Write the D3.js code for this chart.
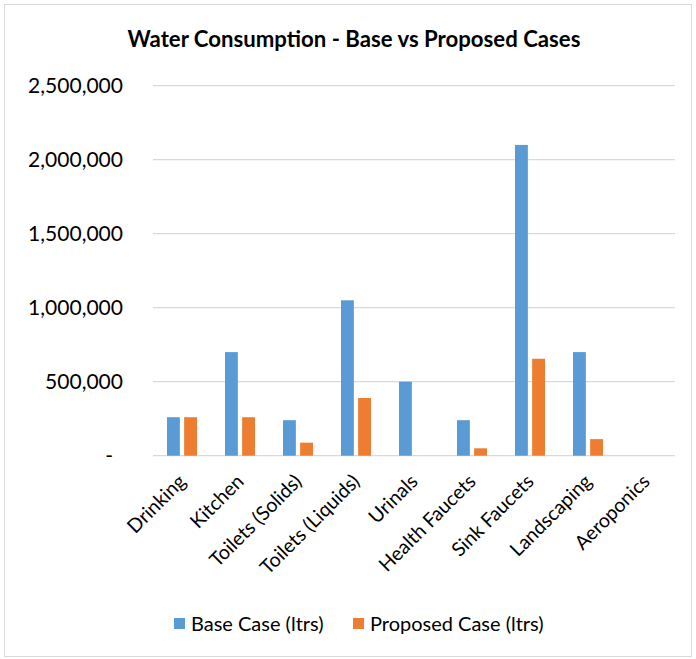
<!DOCTYPE html>
<html>
<head>
<meta charset="utf-8">
<script src="https://cdn.jsdelivr.net/npm/d3@7"></script>
<style>
  html, body { margin: 0; padding: 0; background: #fff; }
  svg { display: block; }
  text { font-family: Lato, "Open Sans", sans-serif; fill: #000; }
</style>
</head>
<body>
<svg id="chart" width="696" height="659"></svg>
<script>
// Water consumption by use, litres
const categories = ["Drinking", "Kitchen", "Toilets (Solids)", "Toilets (Liquids)", "Urinals",
  "Health Faucets", "Sink Faucets", "Landscaping", "Aeroponics"];
const seriesNames = ["Base Case (ltrs)", "Proposed Case (ltrs)"];
const baseCase = [260000, 700000, 240000, 1050000, 500000, 240000, 2100000, 700000, 0];
const proposedCase = [260000, 260000, 88000, 390000, 0, 50000, 655000, 112000, 0];
const yTicks = [0, 500000, 1000000, 1500000, 2000000, 2500000];
const colors = ["#5B9BD5", "#ED7D31"];
const title = "Water Consumption - Base vs Proposed Cases";

const svg = d3.select("#chart");

// scale a text's font size so its rendered width hits a target
function fitWidth(sel, target) {
  const node = sel.node();
  const fs = parseFloat(sel.attr("font-size"));
  const w = node.getComputedTextLength();
  const nfs = fs * target / w;
  sel.attr("font-size", nfs);
  return nfs;
}

// outer frame
svg.append("rect")
  .attr("x", 4.5).attr("y", 4.5).attr("width", 687).attr("height", 652)
  .attr("fill", "#fff").attr("stroke", "#D9D9D9").attr("stroke-width", 1);

const plot = { left: 153, right: 675, top: 85.7, bottom: 455.7 };

const x0 = d3.scaleBand().domain(categories).range([plot.left, plot.right]).padding(0);
const x1 = d3.scaleBand().domain(seriesNames).range([0, 30]).paddingInner(0.25);
const xOff = (x0.bandwidth() - 30) / 2;
const y = d3.scaleLinear().domain([0, 2500000]).range([plot.bottom, plot.top]);

// title
const t = svg.append("text")
  .attr("x", 354).attr("y", 46.7)
  .attr("text-anchor", "middle")
  .attr("font-weight", "bold")
  .attr("font-size", 18)
  .text(title);
fitWidth(t, 453);

// gridlines
svg.append("g")
  .selectAll("line")
  .data(yTicks)
  .join("line")
  .attr("x1", plot.left).attr("x2", plot.right)
  .attr("y1", d => y(d)).attr("y2", d => y(d))
  .attr("stroke", "#D9D9D9").attr("stroke-width", 1.3);

// y-axis labels
const fmt = d3.format(",");
const probe = svg.append("text").attr("font-size", 20).text("2,500,000");
const labelSize = fitWidth(probe, 95);
probe.remove();

svg.append("g")
  .selectAll("text")
  .data(yTicks)
  .join("text")
  .attr("x", d => d === 0 ? 113 : 123)
  .attr("y", d => y(d))
  .attr("dy", "0.36em")
  .attr("text-anchor", "end")
  .attr("font-size", labelSize)
  .text(d => d === 0 ? "-" : fmt(d));

// bars
const groups = svg.append("g")
  .selectAll("g")
  .data(categories.map((c, i) => ({ c, vals: [baseCase[i], proposedCase[i]] })))
  .join("g")
  .attr("transform", d => `translate(${x0(d.c) + xOff},0)`);

groups.selectAll("rect")
  .data(d => d.vals.map((v, j) => ({ v, s: seriesNames[j], j })))
  .join("rect")
  .attr("x", d => x1(d.s))
  .attr("width", x1.bandwidth())
  .attr("y", d => y(d.v))
  .attr("height", d => y(0) - y(d.v))
  .attr("fill", d => colors[d.j]);

// category labels, rotated
svg.append("g")
  .selectAll("text")
  .data(categories)
  .join("text")
  .attr("transform", d => `translate(${x0(d) + x0.bandwidth() / 2 + 5},${plot.bottom + 27}) rotate(-45)`)
  .attr("text-anchor", "end")
  .attr("font-size", labelSize * 0.93)
  .text(d => d);

// legend
const legend = svg.append("g")
  .selectAll("g")
  .data(seriesNames)
  .join("g")
  .attr("transform", (d, i) => `translate(${i === 0 ? 174 : 353},0)`);

legend.append("rect")
  .attr("x", 0).attr("y", 618).attr("width", 11).attr("height", 11)
  .attr("fill", (d, i) => colors[i]);

legend.append("text")
  .attr("x", 17).attr("y", 623.5).attr("dy", "0.36em")
  .attr("font-size", labelSize * 0.95)
  .text(d => d);
</script>
</body>
</html>
